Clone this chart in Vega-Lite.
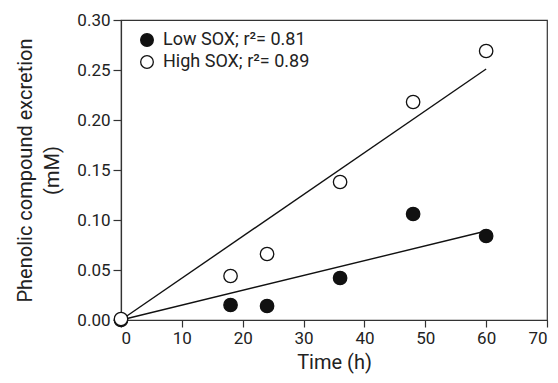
{
  "$schema": "https://vega.github.io/schema/vega-lite/v6.json",
  "autosize": "none",
  "padding": {"left": 121, "top": 20, "right": 11, "bottom": 63},
  "width": 426,
  "height": 300,
  "background": "white",
  "config": {
    "font": "Roboto",
    "view": {"stroke": "#333333", "strokeWidth": 1.2},
    "axis": {
      "grid": false,
      "domainColor": "#333333",
      "domainWidth": 1.2,
      "tickColor": "#333333",
      "tickWidth": 1.2,
      "labelColor": "#222222",
      "titleColor": "#222222",
      "labelFontSize": 17,
      "titleFontSize": 20,
      "titleFontWeight": "normal",
      "labelFont": "Roboto",
      "titleFont": "Roboto"
    },
    "legend": {"labelFont": "Roboto"}
  },
  "datasets": {
    "obs": [
      {"series": "Low SOX; r²= 0.81", "time": 0, "value": 0.0},
      {"series": "Low SOX; r²= 0.81", "time": 18, "value": 0.015},
      {"series": "Low SOX; r²= 0.81", "time": 24, "value": 0.014},
      {"series": "Low SOX; r²= 0.81", "time": 36, "value": 0.042},
      {"series": "Low SOX; r²= 0.81", "time": 48, "value": 0.106},
      {"series": "Low SOX; r²= 0.81", "time": 60, "value": 0.084},
      {"series": "High SOX; r²= 0.89", "time": 0, "value": 0.001},
      {"series": "High SOX; r²= 0.89", "time": 18, "value": 0.044},
      {"series": "High SOX; r²= 0.89", "time": 24, "value": 0.066},
      {"series": "High SOX; r²= 0.89", "time": 36, "value": 0.138},
      {"series": "High SOX; r²= 0.89", "time": 48, "value": 0.218},
      {"series": "High SOX; r²= 0.89", "time": 60, "value": 0.269}
    ],
    "fits": [
      {"series": "Low", "time": 0, "value": 0.0},
      {"series": "Low", "time": 60, "value": 0.089},
      {"series": "High", "time": 0, "value": 0.0},
      {"series": "High", "time": 60, "value": 0.251}
    ]
  },
  "layer": [
    {
      "data": {"name": "fits"},
      "mark": {"type": "line", "color": "#111111", "strokeWidth": 1.4},
      "encoding": {
        "x": {"field": "time", "type": "quantitative"},
        "y": {"field": "value", "type": "quantitative"},
        "detail": {"field": "series"}
      }
    },
    {
      "data": {"name": "obs"},
      "mark": {"type": "point", "shape": "circle", "filled": true, "size": 180, "stroke": "#111111", "strokeWidth": 1.3, "opacity": 1},
      "encoding": {
        "x": {
          "field": "time", "type": "quantitative",
          "scale": {"domain": [0, 70], "nice": false},
          "axis": {"values": [0, 10, 20, 30, 40, 50, 60, 70], "title": "Time (h)", "tickSize": 7, "labelPadding": 3, "titlePadding": 6}
        },
        "y": {
          "field": "value", "type": "quantitative",
          "scale": {"domain": [0, 0.3], "nice": false, "zero": true},
          "axis": {"values": [0, 0.05, 0.1, 0.15, 0.2, 0.25, 0.3], "format": ".2f", "title": ["Phenolic compound excretion", "(mM)"], "titleLineHeight": 27, "tickSize": 8, "labelPadding": 3, "titlePadding": 14}
        },
        "fill": {
          "field": "series", "type": "nominal",
          "scale": {"domain": ["Low SOX; r²= 0.81", "High SOX; r²= 0.89"], "range": ["#111111", "#ffffff"]},
          "legend": {
            "title": null,
            "orient": "none",
            "legendX": 17,
            "legendY": 11,
            "symbolType": "circle",
            "symbolSize": 160,
            "symbolStrokeColor": "#111111",
            "symbolStrokeWidth": 1.3,
            "labelFontSize": 18,
            "labelColor": "#222222",
            "labelOffset": 7,
            "rowPadding": 4
          }
        },
        "order": {"field": "series", "sort": "descending"}
      }
    }
  ]
}
